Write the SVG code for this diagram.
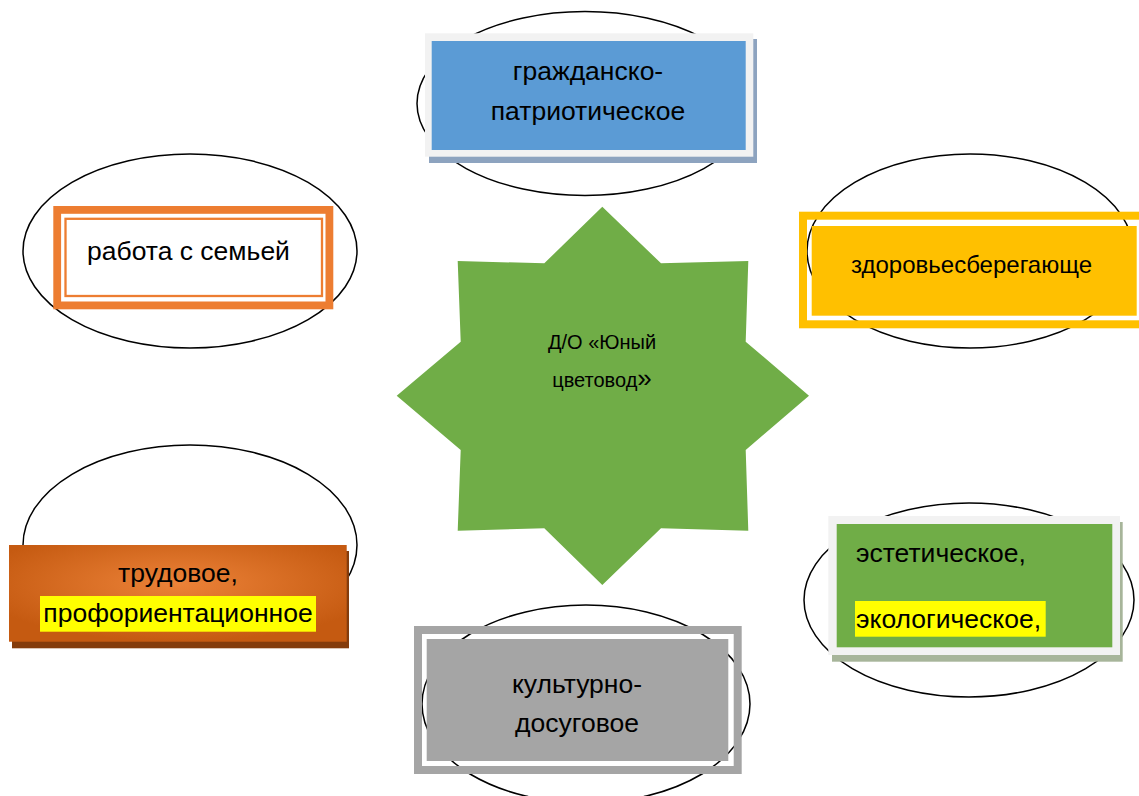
<svg xmlns="http://www.w3.org/2000/svg" width="1139" height="796" viewBox="0 0 1139 796">
<style>
  .ell{fill:none;stroke:#000;stroke-width:1.5}
  .lbl{font-family:"Liberation Sans",Arial,sans-serif;font-size:26.5px;fill:#000}
  .mid{text-anchor:middle}
</style>
<defs>
  <radialGradient id="orangeGrad" cx="50%" cy="40%" r="60%">
    <stop offset="0" stop-color="#ec8238"/>
    <stop offset="1" stop-color="#c55a11"/>
  </radialGradient>
</defs>
<rect width="1139" height="796" fill="#fff"/>

<g id="ellipses">
  <ellipse class="ell" cx="585" cy="103.5" rx="168" ry="92"/>
  <ellipse class="ell" cx="190" cy="251" rx="167" ry="97"/>
  <ellipse class="ell" cx="970" cy="251" rx="163" ry="97"/>
  <ellipse class="ell" cx="190" cy="545" rx="167" ry="100"/>
  <ellipse class="ell" cx="969" cy="600" rx="165" ry="97"/>
  <ellipse class="ell" cx="586" cy="704" rx="164" ry="99"/>
</g>

<g id="center-star">
  <polygon fill="#70ad47" points="602.3,206.7 661,263.3 748.3,261 745.7,341.7 809,395.7 745.7,450 748.3,530.7 661,528.3 602.3,585 544.3,528.3 457.7,530.7 460.7,450 396.7,395.7 460.7,341.7 457.7,261 544.3,263.3"/>
  <text class="lbl mid" x="602" y="349" style="font-size:20px">Д/О «Юный</text>
  <text class="lbl mid" x="602" y="387" style="font-size:20px">цветовод<tspan style="font-size:26px">»</tspan></text>
</g>

<g id="node-civic">
  <rect x="429" y="39" width="328" height="124" fill="#8da3bf"/>
  <rect x="425" y="33.3" width="328.3" height="123.4" fill="#f2f2f2"/>
  <rect x="431.7" y="41" width="314" height="109" fill="#5b9bd5"/>
  <text class="lbl mid" x="588" y="80">гражданско-</text>
  <text class="lbl mid" x="588" y="120">патриотическое</text>
</g>

<g id="node-family">
  <rect x="57.2" y="209.9" width="272.2" height="95.5" fill="#fff" stroke="#ed7d31" stroke-width="7.8"/>
  <rect x="65.5" y="218.8" width="256.5" height="77.2" fill="none" stroke="#ed7d31" stroke-width="2.3"/>
  <text class="lbl" x="87" y="260">работа с семьей</text>
</g>

<g id="node-health">
  <rect x="803" y="215.7" width="360" height="108.6" fill="none" stroke="#ffc000" stroke-width="8"/>
  <rect x="811.7" y="226" width="325" height="89.7" fill="#ffc000"/>
  <text class="lbl" x="851" y="273" style="font-size:24px">здоровьесберегающе</text>
</g>

<g id="node-labour">
  <rect x="12" y="551" width="337" height="97.3" fill="#843c0c"/>
  <rect x="9" y="545" width="337.7" height="96.7" fill="url(#orangeGrad)"/>
  <rect x="40" y="596" width="276" height="35.7" fill="#ffff00"/>
  <text class="lbl mid" x="178" y="581.7">трудовое,</text>
  <text class="lbl mid" x="178" y="621.7">профориентационное</text>
</g>

<g id="node-aesthetic">
  <rect x="832" y="522" width="290.7" height="139.7" fill="#a7b59a"/>
  <rect x="828.3" y="516" width="291.7" height="139" fill="#f2f2f2"/>
  <rect x="836.7" y="524" width="275.6" height="123.3" fill="#70ad47"/>
  <rect x="855" y="601" width="190.7" height="35.7" fill="#ffff00"/>
  <text class="lbl" x="856" y="561.7">эстетическое,</text>
  <text class="lbl" x="856" y="628.3">экологическое,</text>
</g>

<g id="node-culture">
  <rect x="418" y="630" width="319.7" height="140" fill="none" stroke="#a5a5a5" stroke-width="8"/>
  <rect x="426.7" y="639" width="301.6" height="122" fill="#a5a5a5"/>
  <text class="lbl mid" x="577" y="692.5">культурно-</text>
  <text class="lbl mid" x="577" y="731.5">досуговое</text>
</g>
</svg>
